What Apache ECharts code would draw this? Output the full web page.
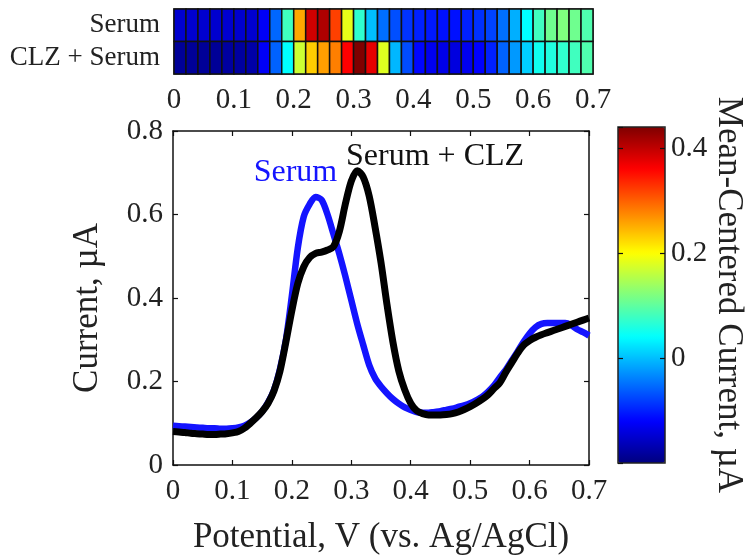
<!DOCTYPE html>
<html><head><meta charset="utf-8">
<script src="https://cdn.jsdelivr.net/npm/echarts@6/dist/echarts.min.js"></script>
<style>html,body{margin:0;padding:0;background:#fff}#c{width:747px;height:556px}</style>
</head><body><div id="c"></div>
<script>
// ---- Data ----
const potentials = [0.00,0.01,0.02,0.03,0.04,0.05,0.06,0.07,0.08,0.09,
  0.10,0.11,0.12,0.13,0.14,0.15,0.16,0.17,0.18,0.19,
  0.20,0.21,0.22,0.23,0.24,0.25,0.26,0.27,0.28,0.29,
  0.30,0.31,0.32,0.33,0.34,0.35,0.36,0.37,0.38,0.39,
  0.40,0.41,0.42,0.43,0.44,0.45,0.46,0.47,0.48,0.49,
  0.50,0.51,0.52,0.53,0.54,0.55,0.56,0.57,0.58,0.59,
  0.60,0.61,0.62,0.63,0.64,0.65,0.66,0.67,0.68,0.69,0.70];
const serumCurrent = [0.094,0.093,0.092,0.091,0.090,0.089,0.088,0.088,0.087,0.087,
  0.088,0.090,0.094,0.102,0.113,0.128,0.150,0.180,0.230,0.300,
  0.405,0.520,0.595,0.625,0.642,0.635,0.600,0.553,0.505,0.452,
  0.395,0.338,0.288,0.240,0.208,0.188,0.172,0.158,0.147,0.138,
  0.132,0.127,0.125,0.125,0.127,0.129,0.132,0.135,0.139,0.143,
  0.148,0.155,0.163,0.175,0.190,0.210,0.228,0.250,0.272,0.295,
  0.315,0.330,0.338,0.340,0.340,0.340,0.340,0.335,0.325,0.318,0.310];
const clzCurrent = [0.080,0.079,0.078,0.076,0.075,0.074,0.073,0.073,0.074,0.075,
  0.077,0.080,0.088,0.100,0.113,0.128,0.148,0.178,0.225,0.295,
  0.370,0.435,0.475,0.497,0.507,0.510,0.515,0.523,0.560,0.625,
  0.680,0.705,0.690,0.645,0.570,0.485,0.385,0.295,0.225,0.180,
  0.148,0.130,0.123,0.120,0.120,0.120,0.121,0.123,0.127,0.133,
  0.140,0.148,0.157,0.168,0.183,0.197,0.222,0.245,0.268,0.287,
  0.298,0.306,0.312,0.317,0.322,0.327,0.332,0.337,0.342,0.347,0.352];

const rowLabels = ['CLZ + Serum', 'Serum'];
const cellStarts = [0.00,0.02,0.04,0.06,0.08,0.10,0.12,0.14,0.16,0.18,
  0.20,0.22,0.24,0.26,0.28,0.30,0.32,0.34,0.36,0.38,
  0.40,0.42,0.44,0.46,0.48,0.50,0.52,0.54,0.56,0.58,
  0.60,0.62,0.64,0.66,0.68];
const cellWidth = 0.02;
const serumHeat = [-0.150,-0.150,-0.150,-0.150,-0.150,-0.150,-0.150,-0.125,-0.055,0.080,
  0.255,0.390,0.410,0.320,0.185,0.070,0.000,-0.050,-0.070,-0.088,
  -0.100,-0.105,-0.110,-0.110,-0.100,-0.090,-0.078,-0.050,-0.010,0.040,
  0.080,0.110,0.120,0.110,0.090];
const clzHeat = [-0.185,-0.185,-0.185,-0.185,-0.180,-0.180,-0.175,-0.125,-0.058,0.040,
  0.168,0.232,0.260,0.280,0.360,0.440,0.376,0.180,-0.005,-0.072,
  -0.117,-0.130,-0.135,-0.140,-0.130,-0.120,-0.100,-0.058,-0.024,0.010,
  0.050,0.060,0.070,0.080,0.090];
const colorMin = -0.2, colorMax = 0.44;
const jet = ['#00007f','#0000ff','#007fff','#00ffff','#7fff7f','#ffff00','#ff7f00','#ff0000','#7f0000'];

// ---- Build ----
const heatData = [];
cellStarts.forEach((x, i) => {
  heatData.push([x, 1, serumHeat[i]]);
  heatData.push([x, 0, clzHeat[i]]);
});
const serumLine = potentials.map((x, i) => [x, serumCurrent[i]]);
const clzLine = potentials.map((x, i) => [x, clzCurrent[i]]);

const FONT = 'Liberation Serif';
const axisLine = {show: true, onZero: false, lineStyle: {color: '#111', width: 1.5}};
const tickIn = {show: true, inside: true, length: 5, lineStyle: {color: '#111', width: 1.2}};

const chart = echarts.init(document.getElementById('c'));
chart.setOption({
  animation: false,
  backgroundColor: '#fff',
  grid: [
    {left: 174, top: 9, width: 419, height: 65, show: true, borderColor: '#333', borderWidth: 1.5, backgroundColor: 'transparent', outerBoundsMode: 'none', containLabel: false},
    {left: 173, top: 131, width: 416, height: 334, show: false, outerBoundsMode: 'none', containLabel: false},
    {left: 618, top: 127, width: 47, height: 336, show: true, borderColor: '#222', borderWidth: 1.5, backgroundColor: 'transparent', zlevel: 1, outerBoundsMode: 'none', containLabel: false}
  ],
  xAxis: [
    {gridIndex: 0, type: 'value', min: 0, max: 0.7, interval: 0.1, position: 'bottom',
      axisLine: {show: false, onZero: false}, axisTick: {show: false}, splitLine: {show: false},
      axisLabel: {fontFamily: FONT, fontSize: 29, color: '#222', margin: 12}},
    {gridIndex: 1, type: 'value', min: 0, max: 0.7, interval: 0.1, position: 'bottom',
      axisLine: axisLine, axisTick: tickIn, splitLine: {show: false},
      axisLabel: {fontFamily: FONT, fontSize: 29, color: '#222', margin: 12},
      name: 'Potential, V (vs. Ag/AgCl)', nameLocation: 'middle', nameGap: 55,
      nameTextStyle: {fontFamily: FONT, fontSize: 35, color: '#222'}},
    {gridIndex: 1, type: 'value', min: 0, max: 0.7, interval: 0.1, position: 'top',
      axisLine: axisLine, axisTick: tickIn, axisLabel: {show: false}, splitLine: {show: false}},
    {gridIndex: 2, type: 'value', min: 0, max: 1, show: false}
  ],
  yAxis: [
    {gridIndex: 0, type: 'category', data: rowLabels,
      axisLine: {show: false, onZero: false}, axisTick: {show: false}, splitLine: {show: false},
      axisLabel: {fontFamily: FONT, fontSize: 27, color: '#222', margin: 14, interval: 0}},
    {gridIndex: 1, type: 'value', min: 0, max: 0.8, interval: 0.2, position: 'left',
      axisLine: axisLine, axisTick: tickIn, splitLine: {show: false},
      axisLabel: {fontFamily: FONT, fontSize: 29, color: '#222', margin: 10},
      name: 'Current, µA', nameLocation: 'middle', nameGap: 68, nameRotate: 90,
      nameTextStyle: {fontFamily: FONT, fontSize: 35, color: '#222', padding: [0, 20, 0, 0]}},
    {gridIndex: 1, type: 'value', min: 0, max: 0.8, interval: 0.2, position: 'right',
      axisLine: axisLine, axisTick: tickIn, axisLabel: {show: false}, splitLine: {show: false}},
    {gridIndex: 2, type: 'value', min: colorMin, max: colorMax, interval: 0.2, position: 'right', zlevel: 1,
      axisLine: {show: false, onZero: false}, axisTick: {show: true, inside: true, length: 5, lineStyle: {color: '#111', width: 1.2}},
      splitLine: {show: false},
      axisLabel: {fontFamily: FONT, fontSize: 29, color: '#222', margin: 6, showMinLabel: false, showMaxLabel: false},
      name: 'Mean-Centered Current, µA', nameLocation: 'middle', nameGap: 45, nameRotate: -90,
      nameTextStyle: {fontFamily: FONT, fontSize: 35, color: '#222'}},
    {gridIndex: 2, type: 'value', min: colorMin, max: colorMax, interval: 0.2, position: 'left', zlevel: 1,
      axisLine: {show: false, onZero: false}, axisTick: {show: true, inside: true, length: 5, lineStyle: {color: '#111', width: 1.2}},
      axisLabel: {show: false}, splitLine: {show: false}}
  ],
  visualMap: {
    type: 'continuous', seriesIndex: 0, dimension: 2,
    min: colorMin, max: colorMax, calculable: false, hoverLink: false,
    left: 618, top: 127, padding: 0, itemWidth: 47, itemHeight: 336, z: 1,
    inRange: {color: jet}
  },
  series: [
    {type: 'custom', xAxisIndex: 0, yAxisIndex: 0, data: heatData,
      encode: {x: 0, y: 1},
      renderItem: function (params, api) {
        const x0 = api.value(0), row = api.value(1);
        const p0 = api.coord([x0, row]);
        const p1 = api.coord([x0 + cellWidth, row]);
        const h = api.size([0, 1])[1];
        return {type: 'rect',
          shape: {x: p0[0], y: p0[1] - h / 2, width: p1[0] - p0[0], height: h},
          style: {fill: api.visual('color'), stroke: '#111', lineWidth: 1.5}};
      }},
    {type: 'line', name: 'Serum', xAxisIndex: 1, yAxisIndex: 1, data: serumLine,
      smooth: 0.3, symbol: 'none', lineStyle: {color: '#1414ff', width: 6.5},
      markPoint: {symbol: 'circle', symbolSize: 0, silent: true,
        label: {show: true, position: 'inside', formatter: 'Serum', fontFamily: FONT, fontSize: 32, color: '#1414ff'},
        data: [{coord: [0.206, 0.70]}]}},
    {type: 'line', name: 'Serum + CLZ', xAxisIndex: 1, yAxisIndex: 1, data: clzLine,
      smooth: 0.3, symbol: 'none', lineStyle: {color: '#000', width: 7},
      markPoint: {symbol: 'circle', symbolSize: 0, silent: true,
        label: {show: true, position: 'inside', formatter: 'Serum + CLZ', fontFamily: FONT, fontSize: 32, color: '#111'},
        data: [{coord: [0.441, 0.738]}]}}
  ]
});
</script></body></html>
